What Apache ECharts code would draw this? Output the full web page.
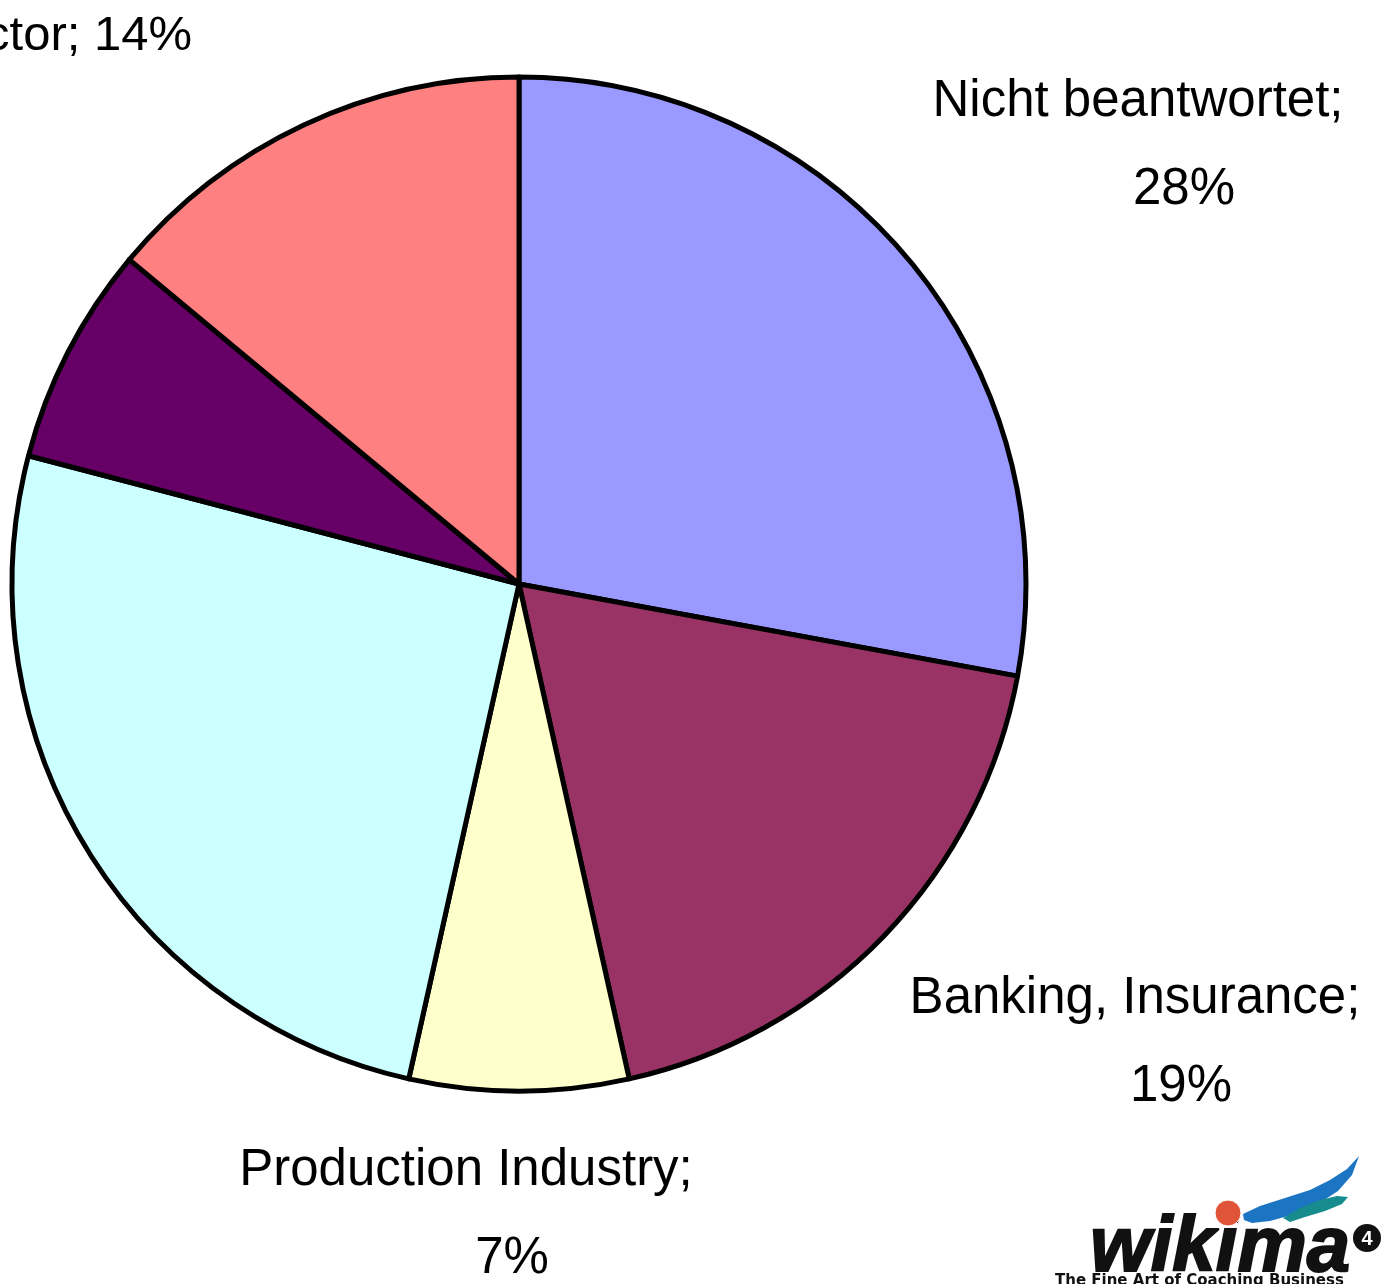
<!DOCTYPE html>
<html>
<head>
<meta charset="utf-8">
<script src="https://cdn.jsdelivr.net/npm/echarts@6/dist/echarts.min.js"></script>
<style>
html,body{margin:0;padding:0;background:#fff;}
#chart{width:1382px;height:1284px;}
</style>
</head>
<body>
<div id="chart"></div>
<script>
// Data (counts; percentages shown in labels)
const categories = ['Nicht beantwortet', 'Banking, Insurance', 'Production Industry', 'IT, Services', 'Other', 'Public Sector'];
const values = [12, 8, 3, 11, 3, 6];
const percentLabels = ['28%', '19%', '7%', '26%', '7%', '14%'];
const colors = ['#9999FF', '#993366', '#FFFFCC', '#CCFFFF', '#660066', '#FF8080'];
const visibleLabels = [true, true, true, false, false, true];

const labelPlacement = {
  0: {x: 1138, y: 146, align: 'center'},
  1: {x: 1135, y: 1043, align: 'center'},
  2: {x: 466, y: 1215, align: 'center'},
  5: {x: 192, y: 36, align: 'right'}
};

const chart = echarts.init(document.getElementById('chart'), null, {renderer: 'canvas'});

const data = categories.map((name, i) => ({
  name: name,
  value: values[i],
  itemStyle: {color: colors[i]},
  label: {show: visibleLabels[i]}
}));

const option = {
  backgroundColor: '#ffffff',
  animation: false,
  series: [{
    type: 'pie',
    center: [519, 584],
    radius: [0, 507],
    startAngle: 90,
    clockwise: true,
    avoidLabelOverlap: false,
    itemStyle: {borderColor: '#000000', borderWidth: 5},
    emphasis: {disabled: true},
    labelLine: {show: false},
    label: {
      position: 'outside',
      formatter: function (p) {
        if (p.dataIndex === 5) return '{c|' + p.name + '; ' + percentLabels[p.dataIndex] + '}';
        return '{a|' + p.name + ';}\n{b|' + percentLabels[p.dataIndex] + '}';
      },
      rich: {
        a: {fontFamily: 'Liberation Sans', fontSize: 51, color: '#000', lineHeight: 88},
        b: {fontFamily: 'Liberation Sans', fontSize: 51, color: '#000', lineHeight: 88, padding: [0, 0, 0, 92]},
        c: {fontFamily: 'Liberation Sans', fontSize: 49, color: '#000', lineHeight: 60}
      }
    },
    labelLayout: function (params) {
      const pl = labelPlacement[params.dataIndex];
      if (!pl) return {};
      return {x: pl.x, y: pl.y, align: pl.align, verticalAlign: 'middle', hideOverlap: false};
    },
    data: data
  }],
  graphic: [
    {
      type: 'polygon',
      shape: {points: [[1243,1214],[1260,1206],[1285,1198],[1310,1190],[1330,1180],[1347,1169],[1359,1156],
                       [1352,1175],[1338,1191],[1318,1204],[1295,1214],[1270,1221],[1252,1223],[1244,1220]]},
      style: {fill: '#1B75C2'}
    },
    {
      type: 'polygon',
      shape: {points: [[1283,1218],[1300,1208],[1320,1200],[1337,1196],[1348,1197],[1342,1204],[1325,1211],[1305,1217],[1290,1222]]},
      style: {fill: '#178C8E'}
    },
    {
      type: 'text',
      x: 1090, y: 1249,
      style: {
        text: 'wikima',
        font: 'italic bold 78px "Liberation Sans"',
        fill: '#111',
        stroke: '#111',
        lineWidth: 2,
        textAlign: 'left',
        textVerticalAlign: 'middle'
      }
    },
    {
      type: 'circle',
      shape: {cx: 1228, cy: 1213, r: 13},
      style: {fill: '#E0553A', stroke: '#fff', lineWidth: 1}
    },
    {
      type: 'circle',
      shape: {cx: 1367, cy: 1238, r: 14},
      style: {fill: '#111'}
    },
    {
      type: 'text',
      x: 1367, y: 1239,
      style: {
        text: '4',
        font: 'bold 20px "Liberation Sans"',
        fill: '#fff',
        textAlign: 'center',
        textVerticalAlign: 'middle'
      }
    },
    {
      type: 'text',
      x: 1055, y: 1274,
      style: {
        text: 'The Fine Art of Coaching Business',
        font: 'bold 15px "DejaVu Sans"',
        fill: '#111',
        textAlign: 'left',
        textVerticalAlign: 'top'
      }
    }
  ]
};

chart.setOption(option);
</script>
</body>
</html>
